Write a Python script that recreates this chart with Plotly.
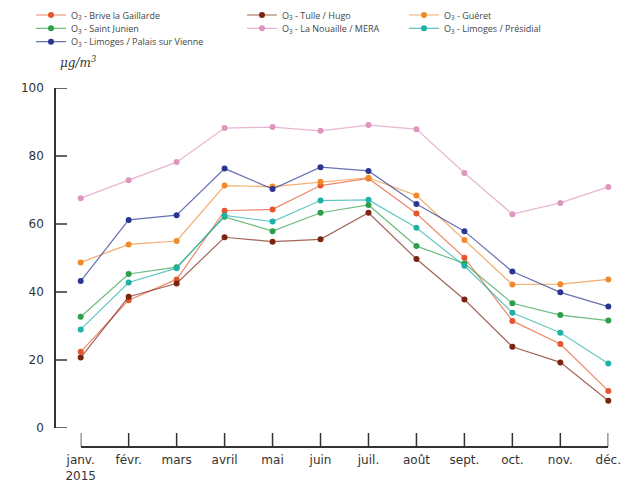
import plotly.graph_objects as go

months = ["janv.<br>2015", "févr.", "mars", "avril", "mai", "juin", "juil.",
          "août", "sept.", "oct.", "nov.", "déc."]
y_ticks = [0, 20, 40, 60, 80, 100]

brive = [22.4, 37.6, 43.7, 63.9, 64.3, 71.3, 73.4, 63.1, 50.1, 31.5, 24.7, 10.9]
tulle = [20.7, 38.6, 42.5, 56.1, 54.8, 55.5, 63.3, 49.7, 37.8, 23.9, 19.3, 8.0]
gueret = [48.7, 54.0, 55.0, 71.3, 71.0, 72.4, 73.6, 68.4, 55.3, 42.2, 42.3, 43.7]
saint_junien = [32.7, 45.3, 47.3, 62.1, 57.9, 63.3, 65.6, 53.5, 48.4, 36.7, 33.2, 31.6]
la_nouaille = [67.6, 72.9, 78.2, 88.2, 88.5, 87.4, 89.1, 87.9, 75.0, 62.9, 66.2, 70.9]
presidial = [29.0, 42.8, 47.0, 62.5, 60.7, 66.9, 67.1, 58.9, 47.7, 33.9, 28.0, 19.0]
palais = [43.2, 61.2, 62.6, 76.3, 70.3, 76.7, 75.6, 65.9, 57.9, 46.0, 39.9, 35.7]

series = [
    ("O<sub>3</sub> - Brive la Gaillarde", brive, (228, 87, 46), "legend", 72, 15),
    ("O<sub>3</sub> - Tulle / Hugo", tulle, (123, 36, 16), "legend2", 283, 15),
    ("O<sub>3</sub> - Guéret", gueret, (240, 138, 44), "legend3", 445, 15),
    ("O<sub>3</sub> - Saint Junien", saint_junien, (46, 158, 72), "legend4", 72, 28.3),
    ("O<sub>3</sub> - La Nouaille / MERA", la_nouaille, (222, 150, 190), "legend5", 283, 28.3),
    ("O<sub>3</sub> - Limoges / Présidial", presidial, (31, 176, 166), "legend6", 445, 28.3),
    ("O<sub>3</sub> - Limoges / Palais sur Vienne", palais, (42, 53, 146), "legend7", 72, 41.7),
]

x_idx = list(range(len(months)))
W, H = 631, 482
ML, MR, MT, MB = 55, 20, 88, 35
PW, PH = W - ML - MR, H - MT - MB
AX = "#333333"

fig = go.Figure()
for name, vals, rgb, lg, tx, ty in series:
    r, g, b = rgb
    fig.add_trace(go.Scatter(
        x=x_idx, y=vals, name=name, mode="lines+markers",
        line=dict(color=f"rgba({r},{g},{b},0.7)", width=1.2),
        marker=dict(color=f"rgb({r},{g},{b})", size=6),
        cliponaxis=False,
        legend=lg,
    ))

layout_legends = {}
for name, vals, rgb, lg, tx, ty in series:
    layout_legends[lg] = dict(
        xref="container", yref="container",
        x=(tx - 41) / W, y=1 - ty / H,
        xanchor="left", yanchor="middle",
        font=dict(family="Open Sans", size=9, color="#444444"),
        bgcolor="rgba(0,0,0,0)", itemwidth=30,
    )

# tick marks (pointing inward), placed at the axes' tick values
shapes = []
for i in x_idx:
    shapes.append(dict(type="line", xref="x", yref="paper", x0=i, x1=i,
                       ysizemode="pixel", yanchor=0, y0=0, y1=14,
                       line=dict(color=AX, width=1.5)))
for v in y_ticks:
    shapes.append(dict(type="line", xref="paper", yref="y", y0=v, y1=v,
                       xsizemode="pixel", xanchor=0, x0=0, x1=12,
                       line=dict(color=AX, width=1.5)))

fig.update_layout(
    width=W, height=H,
    margin=dict(l=ML, r=MR, t=MT, b=MB, autoexpand=False),
    plot_bgcolor="white", paper_bgcolor="white",
    showlegend=True,
    **layout_legends,
    shapes=shapes,
    xaxis=dict(
        domain=[25.7 / PW, 553.3 / PW],
        range=[0, 11],
        tickmode="array", tickvals=x_idx, ticktext=months,
        anchor="free", position=0, automargin=False,
        showline=True, linecolor=AX, linewidth=1.5,
        ticks="", ticklabelstandoff=2,
        showgrid=False, zeroline=False,
        tickfont=dict(family="DejaVu Sans", size=12, color=AX),
    ),
    yaxis=dict(
        domain=[(447 - 428) / PH, 1],
        range=[0, 100],
        tickmode="array", tickvals=y_ticks,
        anchor="free", position=0, automargin=False,
        showline=True, linecolor=AX, linewidth=1.5,
        ticks="", ticklabelstandoff=8,
        showgrid=False, zeroline=False,
        tickfont=dict(family="DejaVu Sans", size=12, color=AX),
    ),
    annotations=[dict(
        xref="paper", yref="paper",
        x=(58 - ML) / PW, y=(H - MB - 62) / PH, xanchor="left", yanchor="middle",
        text="<i>μg/m<sup>3</sup></i>", showarrow=False,
        font=dict(family="DejaVu Serif", size=12, color=AX),
    )],
)

fig.write_html("out.html")
